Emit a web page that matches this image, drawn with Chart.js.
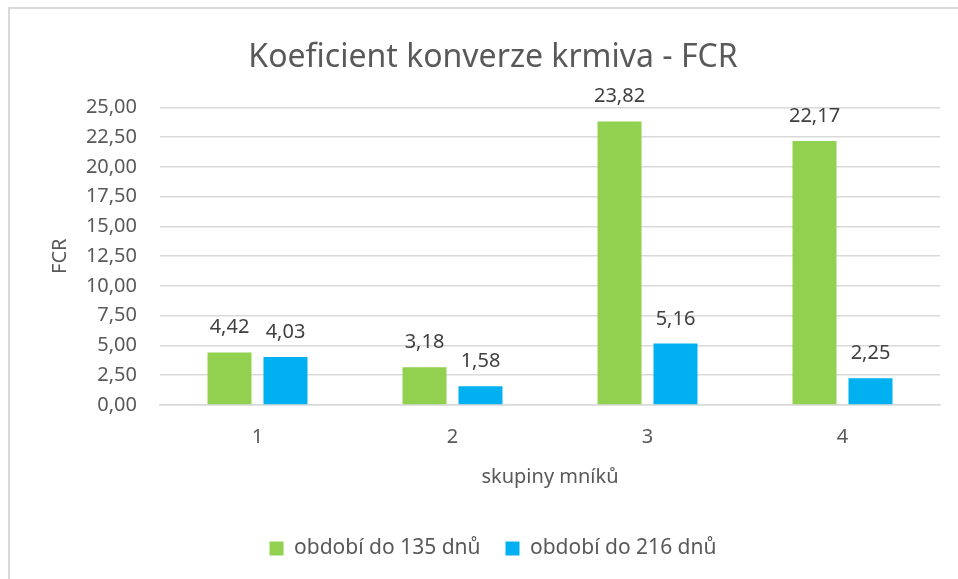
<!DOCTYPE html>
<html>
<head>
<meta charset="utf-8">
<script src="https://cdn.jsdelivr.net/npm/chart.js@4/dist/chart.umd.min.js"></script>
<style>
  html, body { margin: 0; padding: 0; background: #fff; overflow: hidden; }
  #frame { position: absolute; left: 8px; top: 7px; width: 1200px; height: 1200px; border: 2px solid #d9d9d9; }
  #wrap { position: absolute; left: 0; top: 0; width: 958px; height: 579px; }
</style>
</head>
<body>
<div id="frame"></div>
<div id="wrap"><canvas id="chart0" width="958" height="579"></canvas></div>
<script>
// data
var groups = ['1', '2', '3', '4'];
var seriesNames = ['období do 135 dnů', 'období do 216 dnů'];
var fcr135 = [4.42, 3.18, 23.82, 22.17];
var fcr216 = [4.03, 1.58, 5.16, 2.25];
var colors = ['#92D050', '#00B0F0'];

function fmt(v) { return Number(v).toFixed(2).replace('.', ','); }

// value labels above the bars
var barLabels = {
    id: 'barLabels',
    afterDatasetsDraw: function(chart) {
        var ctx = chart.ctx;
        ctx.save();
        ctx.font = '20px "Noto Sans"';
        ctx.fillStyle = '#404040';
        ctx.textAlign = 'center';
        ctx.textBaseline = 'alphabetic';
        chart.data.datasets.forEach(function(ds, i) {
            chart.getDatasetMeta(i).data.forEach(function(bar, j) {
                ctx.fillText(fmt(ds.data[j]), bar.x, bar.y - 19);
            });
        });
        ctx.restore();
    }
};

var data = {
    labels: groups,
    datasets: [{
        label: seriesNames[0],
        backgroundColor: colors[0],
        data: fcr135
    }, {
        label: seriesNames[1],
        backgroundColor: colors[1],
        data: fcr216
    }]
};

var config = {
    type: 'bar',
    data: data,
    plugins: [barLabels],
    options: {
        responsive: false,
        animation: false,
        categoryPercentage: 0.574,
        barPercentage: 0.786,
        layout: { padding: { left: 46, right: 18, top: 0, bottom: 10 } },
        plugins: {
            title: {
                display: true,
                text: 'Koeficient konverze krmiva - FCR',
                color: '#595959',
                font: { family: 'Noto Sans', size: 32, weight: 'normal' },
                padding: { top: 39, bottom: 30 }
            },
            legend: {
                position: 'bottom',
                labels: {
                    color: '#595959',
                    font: { family: 'Noto Sans', size: 21 },
                    boxWidth: 14,
                    boxHeight: 14,
                    padding: 25
                }
            },
            tooltip: { enabled: false }
        },
        scales: {
            x: {
                grid: { display: false, drawTicks: false },
                border: { display: true, color: '#d9d9d9', width: 1.5 },
                ticks: { color: '#595959', font: { family: 'Noto Sans', size: 20 }, padding: 20 },
                title: {
                    display: true,
                    text: 'skupiny mníků',
                    color: '#595959',
                    font: { family: 'Noto Sans', size: 20 },
                    padding: { top: 16, bottom: 24 }
                },
                afterFit: function(s) { s.height = 108; }
            },
            y: {
                min: 0,
                max: 25,
                grid: { color: '#d9d9d9', lineWidth: 1.5, drawTicks: false },
                border: { display: false },
                ticks: {
                    stepSize: 2.5,
                    color: '#595959',
                    font: { family: 'Noto Sans', size: 20 },
                    padding: 23,
                    callback: function(v) { return fmt(v); }
                },
                title: {
                    display: true,
                    text: 'FCR',
                    color: '#595959',
                    font: { family: 'Noto Sans', size: 20 },
                    padding: { top: 2, bottom: 0 }
                },
                afterFit: function(s) { s.width = 114; }
            }
        }
    }
};

var chart = new Chart(document.getElementById('chart0'), config);
</script>
</body>
</html>
